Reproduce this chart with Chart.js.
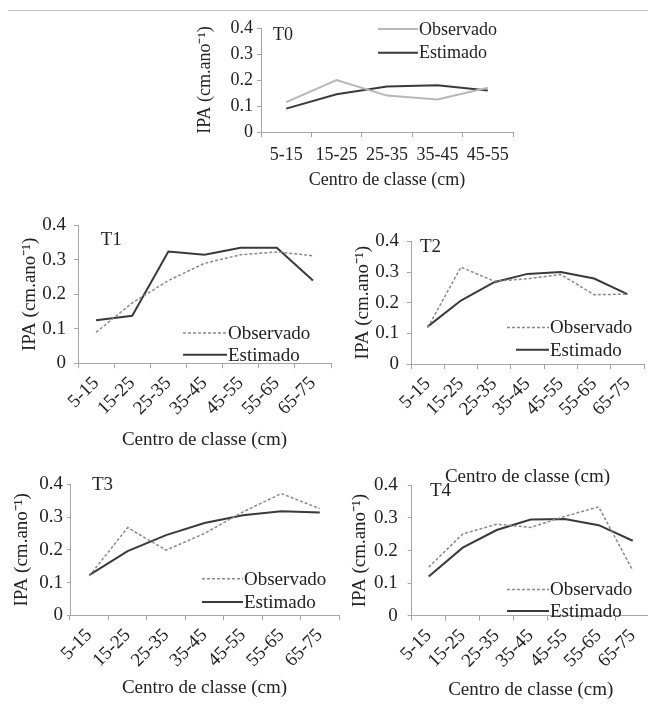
<!DOCTYPE html>
<html lang="pt">
<head>
<meta charset="UTF-8">
<title>IPA observado e estimado</title>
<script src="https://cdn.jsdelivr.net/npm/chart.js@4.4.0/dist/chart.umd.min.js"></script>
<style>
    html, body {
        margin: 0;
        padding: 0;
        width: 648px;
        height: 707px;
        overflow: hidden;
        background: #fff;
    }
    .rule {
        position: absolute;
        left: 8px;
        right: 0;
        top: 10px;
        border-top: 1px solid #c4c4c4;
    }
    .box {
        position: absolute;
    }
</style>
</head>
<body>
<div class="rule"></div>
<div class="box" id="b0"><canvas id="c0"></canvas></div>
<div class="box" id="b1"><canvas id="c1"></canvas></div>
<div class="box" id="b2"><canvas id="c2"></canvas></div>
<div class="box" id="b3"><canvas id="c3"></canvas></div>
<div class="box" id="b4"><canvas id="c4"></canvas></div>

<script>
// classes de diâmetro
const classes5 = ['5-15', '15-25', '25-35', '35-45', '45-55'];
const classes7 = ['5-15', '15-25', '25-35', '35-45', '45-55', '55-65', '65-75'];
const yTicks = [0, 0.1, 0.2, 0.3, 0.4];

// IPA (cm.ano-1)
const t0Obs = [0.115, 0.20, 0.14, 0.125, 0.17];
const t0Est = [0.09, 0.145, 0.175, 0.18, 0.16];
const t1Obs = [0.09, 0.175, 0.24, 0.29, 0.315, 0.323, 0.312];
const t1Est = [0.125, 0.138, 0.324, 0.315, 0.335, 0.335, 0.24];
const t2Obs = [0.118, 0.316, 0.27, 0.278, 0.292, 0.226, 0.228];
const t2Est = [0.122, 0.207, 0.267, 0.294, 0.300, 0.279, 0.228];
const t3Obs = [0.12, 0.268, 0.199, 0.25, 0.316, 0.372, 0.326];
const t3Est = [0.123, 0.196, 0.245, 0.282, 0.306, 0.318, 0.314];
const t4Obs = [0.149, 0.251, 0.281, 0.271, 0.305, 0.334, 0.139];
const t4Est = [0.12, 0.209, 0.263, 0.295, 0.297, 0.278, 0.23];

const FONT = "'Liberation Serif', 'Times New Roman', serif";
const INK = '#222';
const AXIS = '#a6a6a6';

// legenda e rótulo dentro da área do gráfico
const miniLegend = {
    id: 'miniLegend',
    afterDraw(chart, args, o) {
        const ctx = chart.ctx;
        const a = chart.chartArea;
        ctx.save();
        ctx.font = o.size + 'px ' + FONT;
        ctx.fillStyle = INK;
        ctx.textBaseline = 'middle';
        ctx.textAlign = 'left';
        ctx.fillText(o.tag, a.left + o.tagX, a.top + o.tagY);
        chart.data.datasets.forEach((ds, i) => {
            const y = a.top + o.y + i * o.gap;
            const x0 = a.left + o.x + (o.indent ? o.indent[i] : 0);
            const x1 = a.left + o.x + o.len;
            ctx.strokeStyle = ds.borderColor;
            ctx.lineWidth = ds.borderWidth;
            ctx.setLineDash(ds.borderDash || []);
            ctx.beginPath();
            ctx.moveTo(x0, y);
            ctx.lineTo(x1, y);
            ctx.stroke();
            ctx.setLineDash([]);
            ctx.fillText(ds.label, x1 + 1, y + 1);
        });
        ctx.restore();
    }
};

function makeChart(id, cfg) {
    const box = document.getElementById('b' + id);
    box.style.left = cfg.box[0] + 'px';
    box.style.top = cfg.box[1] + 'px';
    box.style.width = cfg.box[2] + 'px';
    box.style.height = cfg.box[3] + 'px';
    const lh = 1.2;

    return new Chart(document.getElementById('c' + id), {
        type: 'line',
        data: {
            labels: cfg.labels,
            datasets: [{
                label: 'Observado',
                data: cfg.obs,
                borderColor: cfg.obsColor,
                borderWidth: cfg.obsWidth,
                borderDash: cfg.obsDash,
                pointRadius: 0,
                tension: 0
            }, {
                label: 'Estimado',
                data: cfg.est,
                borderColor: '#3a3a3a',
                borderWidth: 2,
                pointRadius: 0,
                tension: 0
            }]
        },
        options: {
            responsive: true,
            maintainAspectRatio: false,
            animation: false,
            events: [],
            layout: {
                padding: { left: 0, top: cfg.padTop, right: cfg.padRight, bottom: 0 }
            },
            plugins: {
                legend: { display: false },
                tooltip: { enabled: false },
                miniLegend: cfg.legend
            },
            scales: {
                x: {
                    offset: true,
                    grid: {
                        display: true,
                        drawOnChartArea: false,
                        color: AXIS,
                        tickLength: 5,
                        offset: true
                    },
                    border: { color: AXIS, width: 1 },
                    ticks: {
                        color: INK,
                        font: { family: FONT, size: cfg.size },
                        autoSkip: false,
                        minRotation: cfg.rot,
                        maxRotation: cfg.rot,
                        padding: cfg.xPad
                    },
                    title: {
                        display: true,
                        text: 'Centro de classe (cm)',
                        color: INK,
                        font: { family: FONT, size: cfg.size, lineHeight: lh },
                        padding: { top: 0, bottom: cfg.xTitlePad }
                    },
                    afterFit: s => { s.height = cfg.xH; }
                },
                y: {
                    min: 0,
                    max: 0.4,
                    afterBuildTicks: s => { s.ticks = yTicks.map(v => ({ value: v })); },
                    grid: {
                        display: true,
                        drawOnChartArea: false,
                        color: AXIS,
                        tickLength: cfg.yTick
                    },
                    border: { color: AXIS, width: 1 },
                    ticks: {
                        color: INK,
                        font: { family: FONT, size: cfg.size },
                        padding: cfg.yPad,
                        callback: v => String(Math.round(v * 10) / 10)
                    },
                    title: {
                        display: true,
                        text: 'IPA (cm.ano⁻¹)',
                        color: INK,
                        font: { family: FONT, size: cfg.size, lineHeight: lh },
                        padding: { top: cfg.yTitlePad, bottom: 0 }
                    },
                    afterFit: s => { s.width = cfg.yW; }
                }
            }
        },
        plugins: [miniLegend]
    });
}

const dashObs = { obsColor: '#8a8a8a', obsWidth: 1.5, obsDash: [3, 2] };

makeChart(0, {
    labels: classes5, obs: t0Obs, est: t0Est,
    obsColor: '#b8b8b8', obsWidth: 2, obsDash: [],
    box: [185, 10, 340, 182], padTop: 18, padRight: 12, yW: 76, xH: 60,
    size: 18, rot: 0, xPad: 7, yTick: 4, yPad: 4, yTitlePad: 9.2, xTitlePad: 1.2,
    legend: { size: 18, tag: 'T0', tagX: 12, tagY: 7, x: 117, y: 1, len: 40, gap: 23.7 }
});

makeChart(1, Object.assign({
    labels: classes7, obs: t1Obs, est: t1Est,
    box: [5, 206, 330, 247.4], padTop: 14.7, padRight: 4, yW: 73, xH: 90.1,
    size: 19, rot: 45, xPad: 4, yTick: 4, yPad: 8, yTitlePad: 13.6, xTitlePad: 2,
    legend: { size: 19, tag: 'T1', tagX: 22.7, tagY: 14.3, x: 105, y: 107.6, len: 44, gap: 21.7 }
}, dashObs));

makeChart(2, Object.assign({
    labels: classes7, obs: t2Obs, est: t2Est,
    box: [348, 222, 300, 268], padTop: 15.3, padRight: 4, yW: 63, xH: 126,
    size: 19, rot: 45, xPad: 4, yTick: 4, yPad: 8, yTitlePad: 3.6, xTitlePad: 1.9,
    legend: { size: 19, tag: 'T2', tagX: 9, tagY: 5.7, x: 96, y: 86, len: 42, gap: 22.4, indent: [0, 9] }
}, dashObs));

makeChart(3, Object.assign({
    labels: classes7, obs: t3Obs, est: t3Est,
    box: [7, 469, 336, 232.4], padTop: 15, padRight: 4, yW: 63, xH: 86.1,
    size: 19, rot: 45, xPad: 4, yTick: 3, yPad: 4, yTitlePad: 3.6, xTitlePad: 2,
    legend: { size: 19, tag: 'T3', tagX: 22, tagY: 1, x: 132, y: 94.3, len: 41, gap: 23.4 }
}, dashObs));

makeChart(4, Object.assign({
    labels: classes7, obs: t4Obs, est: t4Est,
    box: [345, 464, 308, 239.4], padTop: 15.3, padRight: 2, yW: 66.7, xH: 87.7,
    size: 19, rot: 45, xPad: 4, yTick: 4, yPad: 10, yTitlePad: 3.6, xTitlePad: 2,
    legend: { size: 19, tag: 'T4', tagX: 18.3, tagY: 5.7, x: 95.3, y: 104, len: 42, gap: 21.7 }
}, dashObs));
</script>
</body>
</html>
